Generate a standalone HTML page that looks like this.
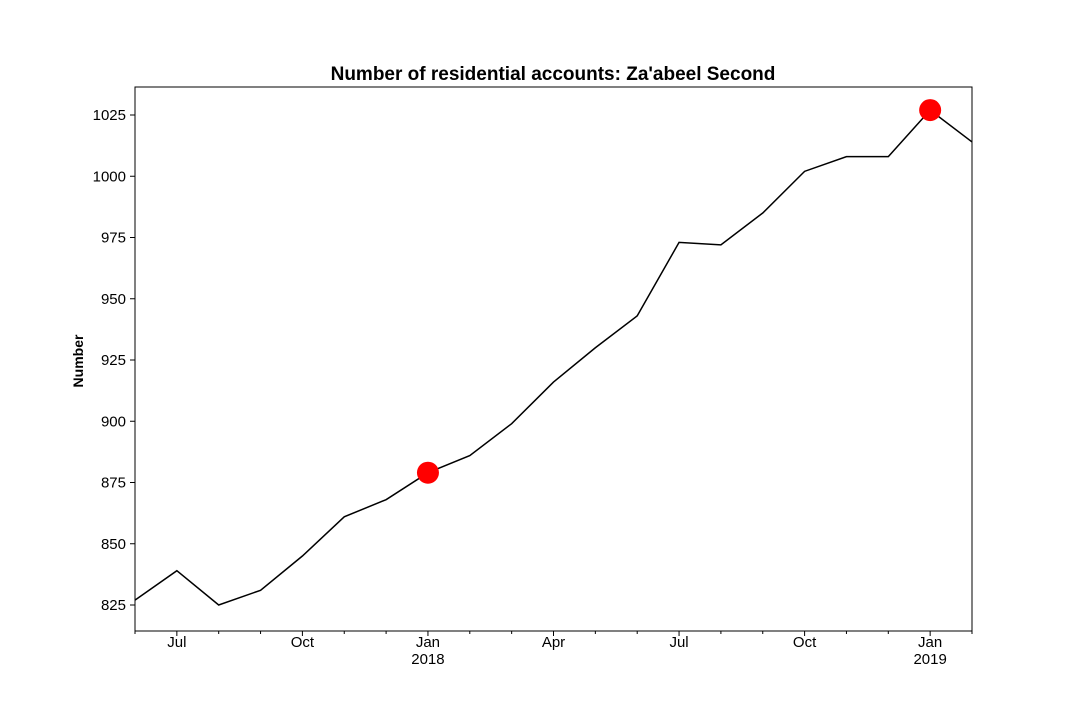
<!DOCTYPE html>
<html><head><meta charset="utf-8"><style>
body{margin:0;background:#fff;}
svg{display:block;font-family:"Liberation Sans","DejaVu Sans",sans-serif;}
</style></head><body>
<svg id="chart" width="1080" height="720" viewBox="0 0 1080 720">
<rect width="1080" height="720" fill="#fff"/>
<text x="553" y="80" text-anchor="middle" font-size="19" font-weight="bold">Number of residential accounts: Za'abeel Second</text>
<text transform="translate(83,361) rotate(-90)" text-anchor="middle" font-size="14" font-weight="bold">Number</text>
<g id="axes"></g>
<g id="marks"></g>
<rect x="135" y="87" width="837" height="544" fill="none" stroke="#000" stroke-width="1"/>
</svg>
<script>
const months = ["2017-06","2017-07","2017-08","2017-09","2017-10","2017-11","2017-12","2018-01","2018-02","2018-03","2018-04","2018-05","2018-06","2018-07","2018-08","2018-09","2018-10","2018-11","2018-12","2019-01","2019-02"];
const values = [827,839,825,831,845,861,868,879,886,899,916,930,943,973,972,985,1002,1008,1008,1027,1014];
const highlightIdx = [7,19];
const yTicks = [825,850,875,900,925,950,975,1000,1025];
const xTickLabels = {"2017-07":["Jul"],"2017-10":["Oct"],"2018-01":["Jan","2018"],"2018-04":["Apr"],"2018-07":["Jul"],"2018-10":["Oct"],"2019-01":["Jan","2019"]};

const NS="http://www.w3.org/2000/svg";
const L=135,R=972,T=87,B=631;
const yMin=825-26/2.45, yMax=1025+28/2.45;
const x=i=>L+i*(R-L)/(months.length-1);
const y=v=>B-(v-yMin)/(yMax-yMin)*(B-T);
function mk(tag,attrs,parent){const e=document.createElementNS(NS,tag);for(const k in attrs)e.setAttribute(k,attrs[k]);parent.appendChild(e);return e;}
const axes=document.getElementById('axes'), marks=document.getElementById('marks');
yTicks.forEach(v=>{
  const t=mk('line',{x1:L-5,x2:L,y1:y(v),y2:y(v),stroke:'#000'},axes);
  
  
  const tx=mk('text',{x:L-9,y:y(v)+5,'text-anchor':'end','font-size':'15'},axes);
  tx.textContent=v;
  
  
});
months.forEach((m,i)=>{
  const lab=xTickLabels[m];
  const t=mk('line',{x1:x(i),x2:x(i),y1:B,y2:B+(lab?5:3),stroke:'#000'},axes);
  
  
  if(lab){lab.forEach((s,j)=>{
    const tx=mk('text',{x:x(i),y:B+16+j*17,'text-anchor':'middle','font-size':'15'},axes);
    tx.textContent=s;
    
    
  });}
});
const p=mk('polyline',{points:values.map((v,i)=>x(i)+','+y(v)).join(' '),fill:'none',stroke:'#000','stroke-width':'1.5'},marks);


highlightIdx.forEach(i=>{
  const c=mk('circle',{cx:x(i),cy:y(values[i]),r:11,fill:'#ff0000'},marks);
  
  
});
</script>
</body></html>
